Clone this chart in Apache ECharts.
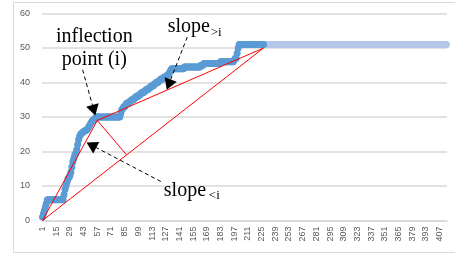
<!DOCTYPE html>
<html><head><meta charset="utf-8">
<script src="https://cdn.jsdelivr.net/npm/echarts@6/dist/echarts.min.js"></script>
<style>html,body{margin:0;padding:0;background:#fff}#c{width:455px;height:255px}</style>
</head><body><div id="c"></div>
<script>
// categories 1..414
const categoryCount = 414;
const categories = Array.from({length: categoryCount}, (_, k) => String(k + 1));
const yTicks = [0, 10, 20, 30, 40, 50, 60];

// observed series (categories 1..227)
const observed = [
 1,2,3,4,5,6,
 6,6,6,6,6,6,6,6,6,6,6,6,6,6,6,6,
 7.5,9,10,11,12,12.5,13,14,15.5,17,18,19,19.5,20.5,22,23.5,24.5,25,
 25.3,25.5,25.8,26,26,26.2,26.5,
 27,27.5,28,28.5,29,29,29.5,29.5,
 30,30,30,30,30,30,30,30,30,30,30,30,30,30,30,30,30,30,30,30,30,30,30,30,30,
 31,32,32.5,33,33,33.5,34,34,34,34.5,
 34.5,35,35,35,35.5,35.5,36,36,36,36.5,
 36.5,37,37,37,37.5,37.5,38,38,38,38.5,
 38.5,39,39,39,39.5,39.5,40,40,40,40.5,
 40.5,41,41,41,41.5,41.5,41.5,42,42,42.5,
 43,43.5,44,44,44,
 44,44,44,44,44,44,44,44,44,44,
 44.5,44.5,44.5,44.5,44.5,44.5,44.5,44.5,44.5,44.5,44.5,44.5,44.5,44.5,44.5,44.5,44.5,
 45,45,45,45.5,45.5,45.5,45.5,
 45.5,45.5,45.5,45.5,45.5,45.5,45.5,45.5,45.5,45.5,45.5,45.5,45.5,
 46,46,46,46,46,46,46,46,46,46,46,46,46,
 46,46.5,47,47,
 48.5,50,51,
 51,51,51,51,51,51,51,51,51,51,51,51,51,51,51,51,51,51,51,51,51,51,51,51,51
];

// plateau series (categories 227..414)
const plateauStart = 226; // zero-based index
const plateau = [
 51,51,51,51,51,51,51,51,51,51,51,51,51,51,51,51,51,51,51,51,
 51,51,51,51,51,51,51,51,51,51,51,51,51,51,51,51,51,51,51,51,
 51,51,51,51,51,51,51,51,51,51,51,51,51,51,51,51,51,51,51,51,
 51,51,51,51,51,51,51,51,51,51,51,51,51,51,51,51,51,51,51,51,
 51,51,51,51,51,51,51,51,51,51,51,51,51,51,51,51,51,51,51,51,
 51,51,51,51,51,51,51,51,51,51,51,51,51,51,51,51,51,51,51,51,
 51,51,51,51,51,51,51,51,51,51,51,51,51,51,51,51,51,51,51,51,
 51,51,51,51,51,51,51,51,51,51,51,51,51,51,51,51,51,51,51,51,
 51,51,51,51,51,51,51,51,51,51,51,51,51,51,51,51,51,51,51,51,
 51,51,51,51,51,51,51,51
];

// red construction lines [zero-based index, value]
const lineBefore = [[0, 0], [56, 29]];
const lineAfter = [[56, 29], [226, 50]];
const lineChord = [[0, 0], [226, 50]];
const linePerp = [[56, 29], [86, 19.0]];

// annotation anchors in data space
const arrows = [
  {from: [41, 43.7], to: [54, 30.4]},
  {from: [148, 53.2], to: [127, 37.9]},
  {from: [121, 11.3], to: [45, 22.6]}
];

const chart = echarts.init(document.getElementById('c'));
const plateauData = plateau.map((v, k) => [plateauStart + k, v]);
const red = d => ({type: 'line', data: d, symbol: 'none', silent: true,
  lineStyle: {color: '#FF0000', width: 1}, z: 5});

chart.setOption({
  animation: false,
  grid: {left: 42, right: 8, top: 13.5, bottom: 34.5},
  xAxis: {
    type: 'category', data: categories, boundaryGap: true,
    axisLine: {lineStyle: {color: '#D9D9D9', width: 1.5}},
    axisTick: {show: false},
    axisLabel: {interval: 13, rotate: 90, fontSize: 9, color: '#595959', margin: 6,
      fontFamily: 'Liberation Sans'},
    splitLine: {show: false}
  },
  yAxis: {
    type: 'value', min: yTicks[0], max: yTicks[yTicks.length - 1], interval: 10,
    axisLine: {show: false}, axisTick: {show: false},
    axisLabel: {fontSize: 9, color: '#595959', margin: 12, fontFamily: 'Liberation Sans'},
    splitLine: {lineStyle: {color: '#D9D9D9', width: 1.5}}
  },
  series: [
    {type: 'line', data: plateauData, symbol: 'circle', symbolSize: 7, showAllSymbol: true,
      itemStyle: {color: '#B4C7E7'}, lineStyle: {color: '#B4C7E7', width: 5}, z: 2},
    {type: 'line', data: observed, symbol: 'circle', symbolSize: 7, showAllSymbol: true,
      itemStyle: {color: '#5B9BD5'}, lineStyle: {color: '#5B9BD5', width: 5}, z: 3},
    red(lineBefore), red(lineAfter), red(lineChord), red(linePerp)
  ]
});

const P = p => chart.convertToPixel({gridIndex: 0}, p);
const g = [
  {type: 'rect', shape: {x: 13.5, y: 2.5, width: 460, height: 250},
    style: {fill: 'none', stroke: '#D9D9D9', lineWidth: 1}, silent: true}
];
arrows.forEach(a => {
  const f = P(a.from), t = P(a.to);
  const dx = t[0] - f[0], dy = t[1] - f[1], L = Math.hypot(dx, dy);
  const ux = dx / L, uy = dy / L, hl = 11, hw = 6.5;
  const bx = t[0] - ux * hl, by = t[1] - uy * hl;
  g.push({type: 'line', shape: {x1: f[0], y1: f[1], x2: bx, y2: by},
    style: {stroke: '#000', lineWidth: 1, lineDash: [4, 3]}, z: 10});
  g.push({type: 'polygon', shape: {points: [[t[0], t[1]], [bx - uy * hw, by + ux * hw], [bx + uy * hw, by - ux * hw]]},
    style: {fill: '#000'}, z: 10});
});
const serif = 'Liberation Serif';
const tInf = P([53, 50.05]);
g.push({type: 'text', x: tInf[0], y: tInf[1], z: 11,
  style: {text: 'inflection\npoint (i)', font: '20px "' + serif + '"', fill: '#000',
    align: 'center', verticalAlign: 'middle', lineHeight: 23}});
const s1 = P([128, 56.1]), s1b = P([172, 54.4]);
g.push({type: 'text', x: s1[0], y: s1[1], z: 11,
  style: {text: 'slope', font: '20px "' + serif + '"', fill: '#000', align: 'left', verticalAlign: 'middle'}});
g.push({type: 'text', x: s1b[0], y: s1b[1], z: 11,
  style: {text: '>i', font: '13px "' + serif + '"', fill: '#000', align: 'left', verticalAlign: 'middle'}});
const s2 = P([124, 8.6]), s2b = P([170, 7.2]);
g.push({type: 'text', x: s2[0], y: s2[1], z: 11,
  style: {text: 'slope', font: '20px "' + serif + '"', fill: '#000', align: 'left', verticalAlign: 'middle'}});
g.push({type: 'text', x: s2b[0], y: s2b[1], z: 11,
  style: {text: '<i', font: '13px "' + serif + '"', fill: '#000', align: 'left', verticalAlign: 'middle'}});
chart.setOption({graphic: g});
</script></body></html>
